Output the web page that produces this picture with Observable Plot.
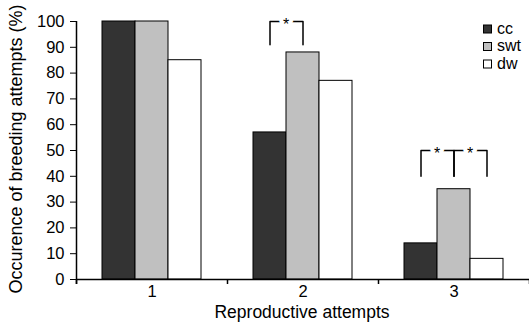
<!DOCTYPE html>
<html><head><meta charset="utf-8">
<script src="https://cdn.jsdelivr.net/npm/d3@7"></script>
<script src="https://cdn.jsdelivr.net/npm/@observablehq/plot@0.6"></script>
<style>
html,body{margin:0;padding:0;background:#fff;}
#chart{position:relative;width:529px;height:323px;}
</style></head><body><div id="chart"></div>
<script>
const groups = ["1", "2", "3"];
const series = ["cc", "swt", "dw"];
const cc = [100, 57, 14];
const swt = [100, 88, 35];
const dw = [85, 77, 8];
const seriesColors = ["#333333", "#c0c0c0", "#ffffff"];
const yTicks = [0, 10, 20, 30, 40, 50, 60, 70, 80, 90, 100];
const xTitle = "Reproductive attempts";
const yTitle = "Occurence of breeding attempts (%)";
const starLabel = "*";
// significance brackets: group, from series, to series, low end, high end (in %)
const brackets = [
  {g: "2", from: "cc", to: "swt", low: 91, high: 100},
  {g: "3", from: "cc", to: "swt", low: 40, high: 50},
  {g: "3", from: "swt", to: "dw", low: 40, high: 50}
];

const W = 529, H = 323, mL = 75, mR = 0, mT = 21, mB = 44;
const innerPadOuter = 0.75;

const values = {cc, swt, dw};
const table = groups.flatMap((g, i) => series.map(s => ({g, s, v: values[s][i]})));
const bracketPts = brackets.flatMap((b, k) => [
  {k, g: b.g, s: b.from, y: b.low},
  {k, g: b.g, s: b.from, y: b.high},
  {k, g: b.g, s: b.to, y: b.high},
  {k, g: b.g, s: b.to, y: b.low}
]);
const stars = brackets.map(b => ({g: b.g, s: b.to, y: b.high}));
const bw = (W - mL - mR) / groups.length / (series.length + 2 * innerPadOuter);

const chart = Plot.plot({
  width: W, height: H,
  marginLeft: mL, marginRight: mR, marginTop: mT, marginBottom: mB,
  style: {fontFamily: "'Liberation Sans', Arial, sans-serif", fontSize: "16.5px", color: "#000", background: "#fff", overflow: "visible"},
  fx: {domain: groups, padding: 0, label: null},
  x: {domain: series, paddingInner: 0, paddingOuter: innerPadOuter, axis: null},
  y: {domain: [0, 100], label: null},
  color: {domain: series, range: seriesColors},
  marks: [
    Plot.barY(table, {fx: "g", x: "s", y: "v", fill: "s", stroke: "#000", strokeWidth: 1}),
    Plot.ruleY([0], {strokeWidth: 1.5}),
    Plot.line(bracketPts, {fx: "g", x: "s", y: "y", z: "k", stroke: "#000", strokeWidth: 1.5}),
    Plot.text(stars, {fx: "g", x: "s", y: "y", text: () => starLabel, dx: -bw / 2, dy: 3.5, fontSize: 16,
      stroke: "#fff", strokeWidth: 8, fill: "#000", paintOrder: "stroke"}),
    Plot.axisY({ticks: yTicks, tickSize: 6, tickPadding: 6, label: null}),
    Plot.axisFx({anchor: "bottom", tickSize: 0, tickPadding: 6, label: null})
  ]
});

const svg = d3.select(chart);
const fxS = chart.scale("fx"), yS = chart.scale("y");
const off = 0.5;
const y0 = yS.apply(0), y100 = yS.apply(100);
const step = fxS.step ?? fxS.bandwidth ?? (W - mL - mR) / groups.length;
const edges = groups.map(g => fxS.apply(g)).concat([fxS.apply(groups[groups.length - 1]) + step]);
const axisG = svg.append("g").attr("stroke", "#000");
axisG.append("line").attr("x1", edges[0] + off).attr("x2", edges[0] + off)
  .attr("y1", y100).attr("y2", y0 + 5).attr("stroke-width", 1.5);
edges.forEach(e => axisG.append("line").attr("x1", e + off).attr("x2", e + off)
  .attr("y1", y0).attr("y2", y0 + 5).attr("stroke-width", 1.5));

svg.append("text").attr("x", (mL + W - mR) / 2).attr("y", 318)
  .attr("text-anchor", "middle").style("font-size", "17.5px").attr("fill", "#000").text(xTitle);
svg.append("text").attr("transform", `translate(22,${(mT + H - mB) / 2 - 1}) rotate(-90)`)
  .attr("text-anchor", "middle").style("font-size", "18px").attr("fill", "#000").text(yTitle);

const leg = svg.append("g").attr("text-anchor", "start");
series.forEach((s, i) => {
  const cy = 29 + i * 17.5;
  leg.append("rect").attr("x", 483.5).attr("y", cy - 4).attr("width", 8).attr("height", 8)
    .attr("fill", seriesColors[i]).attr("stroke", "#000");
  leg.append("text").attr("x", 497).attr("y", cy + 4.5).attr("text-anchor", "start")
    .style("font-size", "16px").attr("fill", "#000").text(s);
});

document.getElementById("chart").append(chart);
</script>
</body></html>
